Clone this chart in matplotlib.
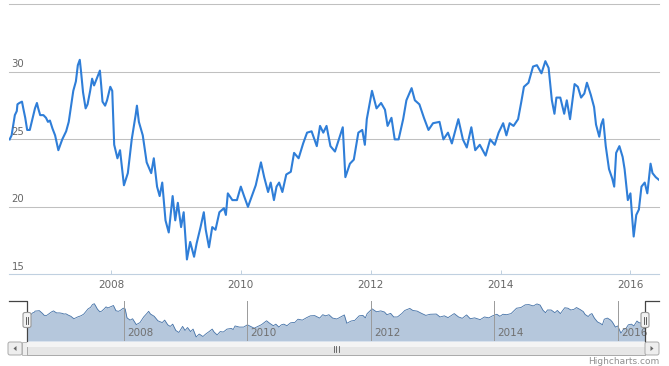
import matplotlib
matplotlib.use('Agg')
import matplotlib.pyplot as plt
import matplotlib.transforms as mtransforms
from matplotlib.patches import Rectangle, FancyBboxPatch, Polygon

# weekly closing price (decimal year, value)
years = [2006.44, 2006.47, 2006.51, 2006.52, 2006.55, 2006.56, 2006.59, 2006.63, 2006.65, 2006.68,
         2006.71, 2006.75, 2006.79, 2006.83, 2006.86, 2006.88, 2006.91, 2006.96, 2007.00, 2007.03,
         2007.06, 2007.10, 2007.14, 2007.19, 2007.25, 2007.31, 2007.35, 2007.39, 2007.42, 2007.46,
         2007.49, 2007.52, 2007.54, 2007.57, 2007.61, 2007.64, 2007.68, 2007.71, 2007.74, 2007.79,
         2007.83, 2007.85, 2007.87, 2007.91, 2007.94, 2007.99, 2008.02, 2008.05, 2008.10, 2008.14,
         2008.20, 2008.26, 2008.32, 2008.38, 2008.40, 2008.43, 2008.49, 2008.55, 2008.62, 2008.66,
         2008.71, 2008.75, 2008.79, 2008.84, 2008.89, 2008.95, 2008.99, 2009.03, 2009.08, 2009.12,
         2009.17, 2009.22, 2009.28, 2009.32, 2009.38, 2009.43, 2009.46, 2009.51, 2009.56, 2009.61,
         2009.67, 2009.74, 2009.77, 2009.80, 2009.87, 2009.94, 2010.00, 2010.05, 2010.11, 2010.17,
         2010.23, 2010.31, 2010.36, 2010.42, 2010.46, 2010.51, 2010.55, 2010.59, 2010.64, 2010.70,
         2010.77, 2010.82, 2010.89, 2010.96, 2011.02, 2011.09, 2011.17, 2011.22, 2011.27, 2011.32,
         2011.38, 2011.45, 2011.51, 2011.57, 2011.61, 2011.68, 2011.74, 2011.81, 2011.87, 2011.91,
         2011.94, 2012.02, 2012.09, 2012.16, 2012.22, 2012.26, 2012.32, 2012.37, 2012.43, 2012.50,
         2012.55, 2012.63, 2012.68, 2012.75, 2012.82, 2012.89, 2012.96, 2013.06, 2013.12, 2013.19,
         2013.25, 2013.35, 2013.42, 2013.48, 2013.55, 2013.61, 2013.68, 2013.77, 2013.84, 2013.91,
         2013.97, 2014.04, 2014.09, 2014.14, 2014.20, 2014.27, 2014.32, 2014.36, 2014.43, 2014.50,
         2014.56, 2014.63, 2014.69, 2014.74, 2014.79, 2014.83, 2014.86, 2014.92, 2014.98, 2015.02,
         2015.07, 2015.14, 2015.19, 2015.24, 2015.29, 2015.33, 2015.39, 2015.44, 2015.47, 2015.52,
         2015.55, 2015.58, 2015.62, 2015.67, 2015.72, 2015.75, 2015.78, 2015.83, 2015.88, 2015.91,
         2015.96, 2016.00, 2016.03, 2016.05, 2016.09, 2016.13, 2016.17, 2016.22, 2016.26, 2016.31,
         2016.34, 2016.39, 2016.44]
price = [25.0, 25.3, 26.5, 26.8, 27.1, 27.6, 27.7, 27.8, 27.3, 26.6,
         25.7, 25.7, 26.5, 27.3, 27.7, 27.3, 26.8, 26.8, 26.6, 26.3,
         26.4, 25.8, 25.3, 24.2, 25.0, 25.6, 26.3, 27.6, 28.6, 29.3,
         30.5, 30.9, 30.0, 28.5, 27.3, 27.6, 28.6, 29.5, 29.0, 29.6,
         30.1, 29.0, 27.8, 27.5, 27.9, 28.9, 28.6, 24.6, 23.6, 24.2,
         21.6, 22.5, 25.0, 26.8, 27.5, 26.3, 25.3, 23.3, 22.5, 23.6,
         21.5, 20.8, 21.8, 19.0, 18.1, 20.8, 19.0, 20.3, 18.5, 19.6,
         16.1, 17.4, 16.3, 17.3, 18.5, 19.6, 18.3, 17.0, 18.5, 18.3,
         19.6, 19.9, 19.4, 21.0, 20.5, 20.5, 21.5, 20.8, 20.0, 20.8,
         21.6, 23.3, 22.2, 21.1, 21.8, 20.5, 21.5, 21.8, 21.1, 22.4,
         22.6, 24.0, 23.6, 24.7, 25.5, 25.6, 24.5, 26.0, 25.5, 26.0,
         24.5, 24.1, 25.0, 25.9, 22.2, 23.2, 23.5, 25.5, 25.7, 24.6,
         26.5, 28.6, 27.3, 27.7, 27.2, 26.0, 26.6, 25.0, 25.0, 26.5,
         27.9, 28.8, 27.9, 27.6, 26.6, 25.7, 26.2, 26.3, 25.0, 25.5,
         24.7, 26.5, 25.0, 24.4, 25.9, 24.2, 24.6, 23.8, 25.0, 24.6,
         25.5, 26.2, 25.3, 26.2, 26.0, 26.5, 27.8, 28.9, 29.2, 30.4,
         30.5, 29.9, 30.8, 30.3, 27.9, 26.9, 28.1, 28.1, 26.9, 27.9,
         26.5, 29.1, 28.9, 28.1, 28.4, 29.2, 28.3, 27.4, 26.1, 25.2,
         26.1, 26.5, 24.5, 22.8, 22.1, 21.5, 24.0, 24.5, 23.7, 22.8,
         20.5, 21.0, 19.0, 17.8, 19.4, 19.8, 21.5, 21.8, 21.0, 23.2,
         22.5, 22.2, 22.0]

tick_years = [2008, 2010, 2012, 2014, 2016]
tick_labels = ['2008', '2010', '2012', '2014', '2016']
y_grid = [20, 25, 30, 35]
y_labels = [15, 20, 25, 30]

W, H = 669, 366
fig = plt.figure(figsize=(W / 100, H / 100), dpi=100)


def box(l, t, r, b):
    # pixel box -> figure fraction
    return [l / W, 1 - b / H, (r - l) / W, (b - t) / H]


x0, x1 = 2006.43, 2016.44

# main chart
ax = fig.add_axes(box(9, 4.5, 659, 274.3))
ax.plot(years, price, color='#2f7ed8', lw=1.5, solid_joinstyle='round', zorder=3)
ax.set_xlim(x0, x1)
ax.set_ylim(15, 35)
for g in y_grid:
    ax.axhline(g, color='#C0C0C0', lw=0.75, clip_on=False, zorder=1)
ax.set_yticks([])
ax.set_xticks(tick_years)
ax.set_xticklabels(tick_labels)
ax.tick_params(axis='x', length=3, width=0.7, color='#C0D0E0', direction='in',
               labelsize=7.5, labelcolor='#666666', pad=4)
for s in ['top', 'left', 'right']:
    ax.spines[s].set_visible(False)
ax.spines['bottom'].set_color('#C0D0E0')
ax.spines['bottom'].set_linewidth(0.8)
ylab_tr = mtransforms.offset_copy(ax.get_yaxis_transform(), fig=fig, x=2.5, y=2.5, units='dots')
for v in y_labels:
    ax.text(0, v, str(v), transform=ylab_tr, ha='left', va='bottom',
            fontsize=7.3, color='#666666')

# navigator
nav = fig.add_axes(box(27, 301, 645, 341))
nav.fill_between(years, price, 14.3, color='#B5C7DC', lw=0)
nav.plot(years, price, color='#4572A7', lw=0.6)
nav.set_xlim(x0, x1)
nav.set_ylim(14.3, 32.1)
nav.axis('off')
nav_tr = mtransforms.offset_copy(nav.get_xaxis_transform(), fig=fig, x=3, y=0, units='dots')
for yr, lab in zip(tick_years, tick_labels):
    nav.axvline(yr, color='#9a9a9a', lw=0.7)
    nav.text(yr, 0.2, lab, transform=nav_tr, ha='left', va='center',
             fontsize=7.5, color='#707070')

# handles, scrollbar, credits drawn in pixel space
ov = fig.add_axes([0, 0, 1, 1])
ov.set_xlim(0, W)
ov.set_ylim(H, 0)
ov.axis('off')

# scrollbar track, thumb, buttons
ov.add_patch(Rectangle((22, 341.5), 623, 13.5, fc='#eeeeee', ec='#bbbbbb', lw=0.7))
ov.add_patch(Rectangle((27, 341.5), 618, 13.5, fc='#e6e6e6', ec='#aaaaaa', lw=0.7))
ov.add_patch(Rectangle((27, 342), 618, 5, fc='#f4f4f4', ec='none'))
for bx in [8, 645]:
    ov.add_patch(FancyBboxPatch((bx, 342), 14, 13, boxstyle='round,pad=0,rounding_size=2',
                                fc='#eeeeee', ec='#aaaaaa', lw=0.7))
ov.add_patch(Polygon([[16.5, 346], [16.5, 351], [13.5, 348.5]], closed=True, fc='#666666', ec='none'))
ov.add_patch(Polygon([[650.5, 346], [650.5, 351], [653.5, 348.5]], closed=True, fc='#666666', ec='none'))
for gx in [333.5, 336, 338.5]:
    ov.plot([gx, gx], [345.5, 351.5], color='#555555', lw=0.6)

# navigator handles
ov.plot([9, 27, 27], [301, 301, 341], color='#444444', lw=0.9)
ov.plot([659, 645, 645], [301, 301, 341], color='#444444', lw=0.9)
for hx in [27, 645]:
    ov.add_patch(FancyBboxPatch((hx - 4, 312.5), 8, 15, boxstyle='round,pad=0,rounding_size=2',
                                fc='#f2f2f2', ec='#999999', lw=0.8, zorder=4))
    for gx in [hx - 1.2, hx + 1.2]:
        ov.plot([gx, gx], [316.5, 323.5], color='#444444', lw=0.6, zorder=5)

ov.text(659, 362, 'Highcharts.com', ha='right', va='center', fontsize=6.5, color='#909090')

fig.savefig('out.png', dpi=100)
